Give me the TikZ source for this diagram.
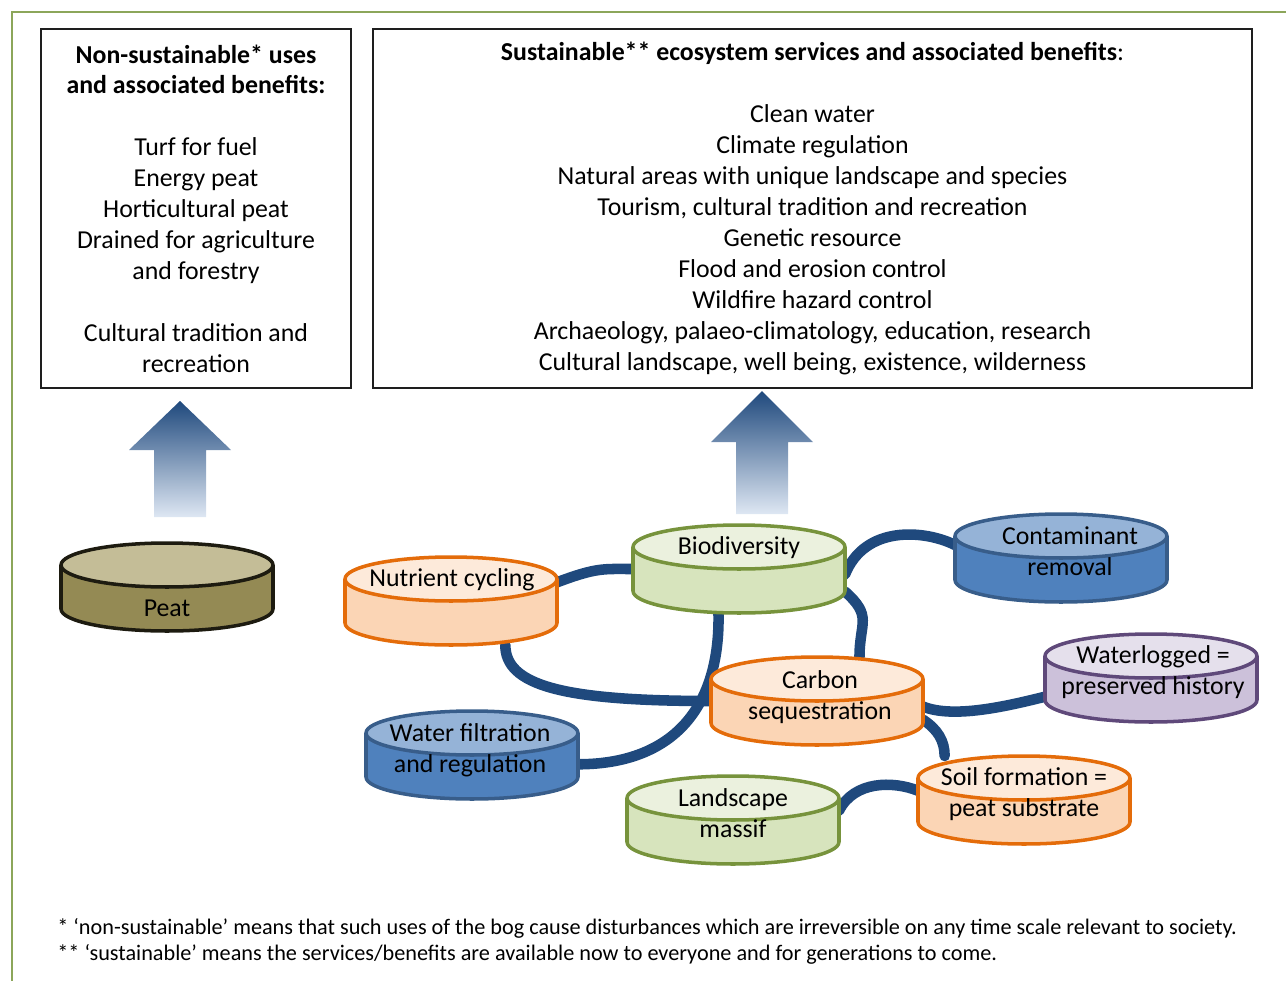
\documentclass[tikz,border=0pt]{standalone}
\usepackage{fontspec}
\setmainfont{Carlito}
\usetikzlibrary{shapes.geometric, backgrounds}
\definecolor{frameolive}{RGB}{140,166,90}
\definecolor{boxline}{RGB}{30,30,30}
\definecolor{linkblue}{RGB}{31,73,125}
\definecolor{arrowtop}{RGB}{31,73,125}
\definecolor{arrowbot}{RGB}{222,231,243}
\definecolor{orline}{RGB}{228,108,10}
\definecolor{ortop}{RGB}{253,234,218}
\definecolor{orbody}{RGB}{251,213,181}
\definecolor{grline}{RGB}{119,147,60}
\definecolor{grtop}{RGB}{235,241,222}
\definecolor{grbody}{RGB}{215,228,189}
\definecolor{blline}{RGB}{56,93,138}
\definecolor{bltop}{RGB}{149,179,215}
\definecolor{blbody}{RGB}{79,129,189}
\definecolor{puline}{RGB}{95,73,122}
\definecolor{putop}{RGB}{229,224,236}
\definecolor{pubody}{RGB}{204,193,218}
\definecolor{peline}{RGB}{29,27,16}
\definecolor{petop}{RGB}{196,189,151}
\definecolor{pebody}{RGB}{148,138,84}
\newcommand{\mainsize}{\fontsize{14.7}{17.6}\selectfont}
\newcommand{\notesize}{\fontsize{12.65}{14.8}\selectfont}
\newcommand{\tank}[6]{%
  \node[tankend, draw=#4line, fill=#4body] (#1bot) at (#2,#3+44) {};
  \fill[#4body] (#2-106,#3) rectangle (#2+106,#3+44);
  \draw[tankline, #4line] (#2-106,#3) -- (#2-106,#3+44) (#2+106,#3) -- (#2+106,#3+44);
  \node[tankend, draw=#4line, fill=#4top] (#1top) at (#2,#3) {};
  \node[tankbox] (#1) at (#2,#3+22) {};
  \node[tanktext] (#1txt) at #5 {#6};
}

\begin{document}
\begin{tikzpicture}[x=0.02cm, y=-0.02cm,
  frame/.style={draw=frameolive, line width=1.7pt},
  txtbox/.style={draw=boxline, line width=0.85pt, align=center, inner sep=0pt, minimum height=7.18cm, font=\mainsize},
  tankend/.style={ellipse, minimum width=4.24cm, minimum height=0.88cm, inner sep=0pt, line width=2pt},
  tankline/.style={line width=2pt},
  tankbox/.style={rectangle, minimum width=4.24cm, minimum height=1.76cm, inner sep=0pt, outer sep=0pt},
  tanktext/.style={align=center, font=\mainsize, inner sep=0pt},
  link/.style={draw=linkblue, line width=6pt, line cap=round},
  bigarrow/.style={top color=arrowtop, bottom color=arrowbot}
]
  \useasboundingbox (0,0) rectangle (1286,981);
  \draw[frame] (12,981) -- (12,12) -- (1286,12);

  \node[txtbox, minimum width=6.2cm] (nonsust) at (196,208.5) {\textbf{Non-sustainable* uses}\\\textbf{and associated benefits:}\\[17.6pt]
    Turf for fuel\\Energy peat\\Horticultural peat\\Drained for agriculture\\and forestry\\[17.6pt]
    Cultural tradition and\\recreation};
  \node[txtbox, minimum width=17.58cm] (sust) at (812.5,208.5) {\textbf{Sustainable** ecosystem services and associated benefits}:\\[17.6pt]
    Clean water\\Climate regulation\\Natural areas with unique landscape and species\\Tourism, cultural tradition and recreation\\
    Genetic resource\\Flood and erosion control\\Wildfire hazard control\\
    Archaeology, palaeo-climatology, education, research\\Cultural landscape, well being, existence, wilderness};

  \shade[bigarrow] (180,401) -- (231,450) -- (206,450) -- (206,517) -- (154,517) -- (154,450) -- (129,450) -- cycle;
  \shade[bigarrow] (762,391) -- (813,442) -- (788,442) -- (788,514) -- (736,514) -- (736,442) -- (711,442) -- cycle;

  \tank{peat}{167}{565}{pe}{(167,608)}{Peat}
  \tank{nutr}{451}{579}{or}{(452,580)}{Nutrient cycling}
  \tank{bio}{739}{547}{gr}{(739,548)}{Biodiversity}
  \tank{cont}{1061}{536}{bl}{(1070,551.5)}{Contaminant\\removal}
  \tank{carb}{817}{679}{or}{(820,697.5)}{Carbon\\sequestration}
  \tank{wlog}{1151}{656}{pu}{(1153,672.5)}{Waterlogged =\\preserved history}
  \tank{wat}{472}{733}{bl}{(470,750.5)}{Water filtration\\and regulation}
  \tank{land}{733}{798}{gr}{(733,813.5)}{Landscape\\massif}
  \tank{soil}{1024}{778}{or}{(1024,794.5)}{Soil formation =\\peat substrate}

  \begin{scope}[on background layer]
    \draw[link] (nutr.10) .. controls +(40,-15) and +(-30,0) .. (bio.west);
    \draw[link] (nutr.-39) .. controls +(0,40) and +(-150,0) .. (carb.west);
    \draw[link] (bio.-115) .. controls +(2,100) and +(90,0) .. (wat.-5);
    \draw[link] (bio.-12) .. controls +(28,25) and +(0,-35) .. (carb.46);
    \draw[link] (bio.-3) .. controls +(20,-50) and +(-30,-15) .. (cont.173);
    \draw[link] (carb.-3) .. controls +(30,12) and +(-40,10) .. (wlog.190);
    \draw[link] (carb.-10) .. controls +(15,10) and +(0,-15) .. (soil.151);
    \draw[link] (land.5) .. controls +(15,-30) and +(-25,-10) .. (soil.175);
  \end{scope}

  \node[anchor=west, align=left, font=\notesize, inner sep=0pt] (notes) at (57,941) {* ‘non-sustainable’ means that such uses of the bog cause disturbances which are irreversible on any time scale relevant to society.\\
    ** ‘sustainable’ means the services/benefits are available now to everyone and for generations to come.};
\end{tikzpicture}
\end{document}
